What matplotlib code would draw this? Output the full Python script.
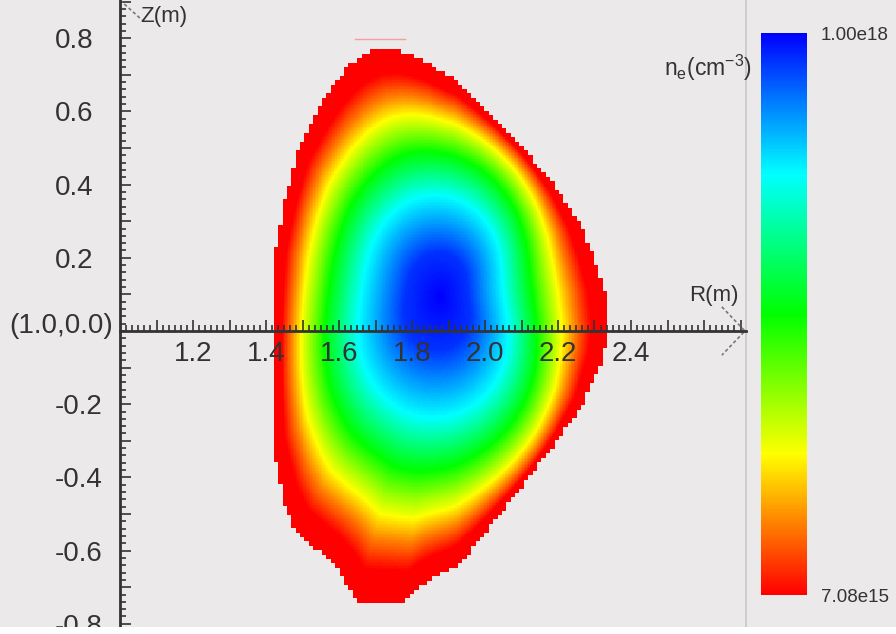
import numpy as np
import matplotlib
matplotlib.use('Agg')
import matplotlib.pyplot as plt
from matplotlib.colors import LinearSegmentedColormap, Normalize
from matplotlib.patches import Rectangle
from matplotlib.ticker import FixedLocator

plt.rcParams['font.family'] = ['Liberation Sans', 'DejaVu Sans']
plt.rcParams['mathtext.fontset'] = 'custom'
plt.rcParams['mathtext.rm'] = 'Liberation Sans'
plt.rcParams['mathtext.it'] = 'Liberation Sans:italic'

# plasma boundary (R, Z in m), clockwise from the top
bound_R = [1.699, 1.748, 1.786, 1.816, 1.841, 1.858, 1.882, 1.904, 1.923, 2.014,
           2.110, 2.192, 2.255, 2.301, 2.329, 2.340, 2.321, 2.266, 2.178, 2.118,
           2.027, 1.973, 1.932, 1.896, 1.858, 1.830, 1.803, 1.781, 1.647, 1.630,
           1.616, 1.597, 1.575, 1.479, 1.447, 1.422, 1.422, 1.422, 1.422, 1.427,
           1.452, 1.488, 1.548, 1.567, 1.584, 1.603, 1.616, 1.636, 1.652, 1.677]
bound_Z = [0.770, 0.770, 0.760, 0.746, 0.735, 0.721, 0.708, 0.694, 0.686, 0.596,
           0.495, 0.396, 0.303, 0.197, 0.112, 0.003, -0.079, -0.202, -0.325, -0.402,
           -0.516, -0.585, -0.634, -0.658, -0.675, -0.694, -0.716, -0.738, -0.738, -0.708,
           -0.680, -0.653, -0.626, -0.544, -0.462, -0.325, -0.188, -0.050, 0.085, 0.221,
           0.358, 0.495, 0.612, 0.645, 0.672, 0.694, 0.713, 0.732, 0.746, 0.760]
axis_R, axis_Z = 1.878, 0.095

# density profile against normalised minor radius (cm^-3)
prof_rho = [0.0, 0.20, 0.45, 0.64, 0.79, 0.86, 0.93, 1.00]
prof_ne = [1.00e18, 9.50e17, 7.52e17, 5.04e17, 2.55e17, 1.26e17, 7.08e15, 7.08e15]
ne_min, ne_max = 7.08e15, 1.00e18

r_ticks = [1.1, 1.2, 1.3, 1.4, 1.5, 1.6, 1.7, 1.8, 1.9, 2.0, 2.1, 2.2, 2.3, 2.4, 2.5, 2.6, 2.7]
r_labels = ['', '1.2', '', '1.4', '', '1.6', '', '1.8', '', '2.0', '', '2.2', '', '2.4', '', '', '']
z_ticks = [-0.8, -0.7, -0.6, -0.5, -0.4, -0.3, -0.2, -0.1, 0.1, 0.2, 0.3, 0.4, 0.5, 0.6, 0.7, 0.8, 0.9]
z_labels = ['-0.8', '', '-0.6', '', '-0.4', '', '-0.2', '', '', '0.2', '', '0.4', '', '0.6', '', '0.8', '']

# red line drawn above the top of the plasma
top_line_R = [1.644, 1.781]
top_line_Z = [0.797, 0.797]

bg = '#ebe9e9'
ink = '#333333'

cmap = LinearSegmentedColormap.from_list(
    'ne', [(0.0, '#ff0000'), (0.25, '#ffff00'), (0.5, '#00ff00'),
           (0.75, '#00ffff'), (1.0, '#0000ff')])
cmap.set_bad((0, 0, 0, 0))

# boundary radius as a function of poloidal angle around the axis
bR = np.array(bound_R)
bZ = np.array(bound_Z)
t = np.linspace(0, 1, 25, endpoint=False)
dR = np.concatenate([bR[i] + t * (bR[(i + 1) % len(bR)] - bR[i]) for i in range(len(bR))])
dZ = np.concatenate([bZ[i] + t * (bZ[(i + 1) % len(bZ)] - bZ[i]) for i in range(len(bZ))])
th_b = np.arctan2(dZ - axis_Z, dR - axis_R)
r_b = np.hypot(dR - axis_R, dZ - axis_Z)
order = np.argsort(th_b)
th_u = np.linspace(-np.pi, np.pi, 720, endpoint=False)
r_raw = np.interp(th_u, th_b[order], r_b[order], period=2 * np.pi)

# inner surfaces: only shift and elongation, blended to the boundary at the edge
coef = np.fft.rfft(r_raw)
coef[3:] = 0
r_sm = np.fft.irfft(coef, n=720)


def rho_at(R, Z):
    th = np.arctan2(Z - axis_Z, R - axis_R)
    r = np.hypot(R - axis_R, Z - axis_Z)
    a = np.interp(th, th_u, r_sm, period=2 * np.pi)
    b = np.interp(th, th_u, r_raw, period=2 * np.pi)
    lo = np.zeros_like(r)
    hi = np.full_like(r, 2.0)
    for _ in range(30):
        mid = 0.5 * (lo + hi)
        f = mid * (a + mid ** 4 * (b - a))
        big = f > r
        hi = np.where(big, mid, hi)
        lo = np.where(big, lo, mid)
    return 0.5 * (lo + hi)


def inside_at(R, Z):
    th = np.arctan2(Z - axis_Z, R - axis_R)
    rb = np.interp(th, th_u, r_raw, period=2 * np.pi)
    return np.hypot(R - axis_R, Z - axis_Z) <= rb


R0g, Z0g, dc, k = 1.398, -0.778, 0.012, 3
nRc, nZc = 80, 130
Rc = R0g + (np.arange(nRc) + 0.5) * dc
Zc = Z0g + (np.arange(nZc) + 0.5) * dc
RRc, ZZc = np.meshgrid(Rc, Zc)
inside = np.kron(inside_at(RRc, ZZc), np.ones((k, k), dtype=bool))

df = dc / k
Rf = R0g + (np.arange(nRc * k) + 0.5) * df
Zf = Z0g + (np.arange(nZc * k) + 0.5) * df
RRf, ZZf = np.meshgrid(Rf, Zf)
ne = np.interp(rho_at(RRf, ZZf), prof_rho, prof_ne)
ne = np.ma.masked_where(~inside, ne)

W, H = 896, 634
fig = plt.figure(figsize=(W / 100, H / 100), dpi=100)
fig.patch.set_facecolor(bg)
fig.add_artist(Rectangle((0, 0), 1, 7 / H, transform=fig.transFigure,
                         facecolor='white', edgecolor='none'))

ax = fig.add_axes([0, 7 / H, 746 / W, 627 / H])
ax.set_facecolor(bg)
norm = Normalize(vmin=ne_min, vmax=ne_max)
im = ax.imshow(ne, extent=[R0g, R0g + nRc * dc, Z0g, Z0g + nZc * dc],
               origin='lower', cmap=cmap, norm=norm, interpolation='nearest',
               aspect='auto', zorder=1)
ax.plot(top_line_R, top_line_Z, color='#f4a0a0', lw=1, zorder=1)

ax.set_xlim(1 - 120 / 365, 1 + 626 / 365)
ax.set_ylim((331 - 627) / 366, 331 / 366)

ax.spines['top'].set_visible(False)
ax.spines['right'].set_color('#c8c8c8')
ax.spines['right'].set_linewidth(1.2)
ax.spines['left'].set_position(('data', 1.0))
ax.spines['bottom'].set_position(('data', 0.0))
ax.spines['bottom'].set_bounds(1.0, 1 + 626 / 365)
for s in ['left', 'bottom']:
    ax.spines[s].set_color(ink)
    ax.spines[s].set_linewidth(2)
    ax.spines[s].set_zorder(3)

ax.xaxis.set_major_locator(FixedLocator(r_ticks))
ax.xaxis.set_minor_locator(FixedLocator(np.arange(1.0, 2.71, 0.1 / 6)[1:]))
ax.set_xticklabels(r_labels)
ax.yaxis.set_major_locator(FixedLocator(z_ticks))
ax.yaxis.set_minor_locator(FixedLocator(np.arange(-0.80, 0.91, 0.02)))
ax.set_yticklabels(z_labels)
ax.tick_params(which='both', direction='in', color=ink, width=1.2,
               labelcolor=ink, labelsize=20)
ax.tick_params(which='major', length=8)
ax.tick_params(which='minor', length=4)
ax.tick_params(axis='x', pad=7)
ax.tick_params(axis='y', pad=46.8)
for lab in ax.get_yticklabels():
    lab.set_ha('left')

ax.text(1 - 7 / 365, 0.015, '(1.0,0.0)', ha='right', va='center',
        fontsize=20, color=ink)

# axis arrows
ax.plot([2.649, 2.712, 2.649], [0.066, 0.0, -0.066], color='#777777', lw=1.2,
        ls=(0, (2, 1.5)), clip_on=False)
ax.plot([1.0, 1.060], [0.904, 0.850], color='#777777', lw=1.2,
        ls=(0, (2, 1.5)), clip_on=False)
ax.text(2.695, 0.098, 'R(m)', ha='right', va='center', fontsize=16, color=ink)
ax.text(1.055, 0.858, 'Z(m)', ha='left', va='center', fontsize=16, color=ink)

cax = fig.add_axes([761 / W, (H - 595) / H, 46 / W, 562 / H])
cb = fig.colorbar(im, cax=cax, ticks=[ne_min, ne_max])
cb.outline.set_visible(False)
cb.ax.set_yticklabels(['7.08e15', '1.00e18'])
cb.ax.tick_params(length=0, pad=10, labelsize=13.5, labelcolor=ink)
fig.text(752 / W, (H - 68) / H, r'n$_\mathrm{e}$(cm$^{-3}$)', ha='right',
         va='center', fontsize=16.5, color=ink)

fig.savefig('out.png', dpi=100, facecolor=fig.get_facecolor())
